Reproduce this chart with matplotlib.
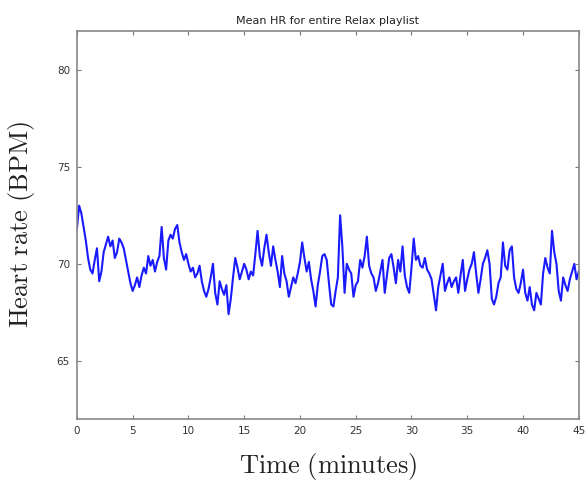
import numpy as np
import matplotlib
matplotlib.use('Agg')
import matplotlib.pyplot as plt

plt.rcParams['mathtext.fontset'] = 'cm'

# mean heart rate, one value every 0.2 minutes
hr_0_10 = [71.8, 73.0, 72.6, 71.9, 71.2, 70.3, 69.7, 69.5, 70.2, 70.8,
           69.1, 69.6, 70.6, 71.0, 71.4, 70.9, 71.2, 70.3, 70.6, 71.3,
           71.1, 70.8, 70.2, 69.6, 69.0, 68.6, 68.9, 69.3, 68.8, 69.4,
           69.8, 69.5, 70.4, 69.9, 70.2, 69.6, 70.1, 70.4, 71.9, 70.3,
           69.7, 71.2, 71.5, 71.3, 71.8, 72.0, 71.1, 70.6, 70.2, 70.5]
hr_10_20 = [70.0, 69.6, 69.8, 69.3, 69.5, 69.9, 69.1, 68.6, 68.3, 68.7,
            69.3, 70.0, 68.5, 67.9, 69.1, 68.7, 68.4, 68.9, 67.4, 68.2,
            69.3, 70.3, 69.8, 69.2, 69.6, 70.0, 69.7, 69.2, 69.6, 69.4,
            70.5, 71.7, 70.4, 69.9, 70.8, 71.5, 70.6, 69.9, 70.9, 70.2,
            69.6, 68.8, 70.4, 69.5, 69.1, 68.3, 68.8, 69.3, 69.0, 69.5]
hr_20_30 = [70.1, 71.1, 70.3, 69.6, 70.1, 69.2, 68.6, 67.8, 68.9, 69.6,
            70.4, 70.5, 70.2, 69.0, 67.9, 67.8, 68.6, 69.3, 72.5, 70.9,
            68.5, 70.0, 69.7, 69.5, 68.3, 68.9, 69.1, 70.2, 69.8, 70.4,
            71.4, 69.9, 69.5, 69.3, 68.6, 69.0, 69.6, 70.2, 68.5, 69.4,
            70.3, 70.5, 69.8, 69.0, 70.2, 69.6, 70.9, 69.4, 68.8, 68.5]
hr_30_40 = [69.8, 71.3, 70.2, 70.4, 69.9, 69.8, 70.3, 69.7, 69.5, 69.2,
            68.4, 67.6, 68.8, 69.4, 70.0, 68.6, 69.0, 69.3, 68.8, 69.1,
            69.3, 68.5, 69.4, 70.2, 68.6, 69.2, 69.7, 70.0, 70.6, 69.5,
            68.5, 69.2, 70.0, 70.3, 70.7, 70.0, 68.2, 67.9, 68.3, 69.0,
            69.3, 71.1, 69.9, 69.7, 70.7, 70.9, 69.3, 68.7, 68.5, 69.0]
hr_40_45 = [69.7, 68.5, 68.1, 68.8, 67.9, 67.6, 68.5, 68.2, 67.9, 69.5,
            70.3, 69.8, 69.5, 71.7, 70.6, 70.0, 68.6, 68.1, 69.3, 68.9,
            68.6, 69.2, 69.6, 70.0, 69.2, 69.6]

hr = hr_0_10 + hr_10_20 + hr_20_30 + hr_30_40 + hr_40_45
minutes = np.arange(len(hr)) * 0.2

fig = plt.figure(figsize=(5.87, 4.86), dpi=100)
ax = fig.add_axes([0.131, 0.138, 0.855, 0.798])

ax.plot(minutes, hr, color='#1a1aff', linewidth=1.5)

ax.set_xlim(0, 45)
ax.set_ylim(62, 82)
ax.set_xticks(np.arange(0, 46, 5))
ax.set_yticks([65, 70, 75, 80])
ax.tick_params(direction='in', top=True, right=True, labelsize=7.5, length=3,
               color='#777777', labelcolor='#333333', pad=5)
for s in ax.spines.values():
    s.set_color('#888888')
    s.set_linewidth(1.2)

ax.set_title('Mean HR for entire Relax playlist', fontsize=8, color='#222222', pad=5)
ax.set_xlabel(r'$\mathrm{Time\ (minutes)}$', fontsize=19, labelpad=11, color='#222222')
ax.set_ylabel(r'$\mathrm{Heart\ rate\ (BPM)}$', fontsize=19, labelpad=14, color='#222222')

fig.savefig('out.png', dpi=100)
